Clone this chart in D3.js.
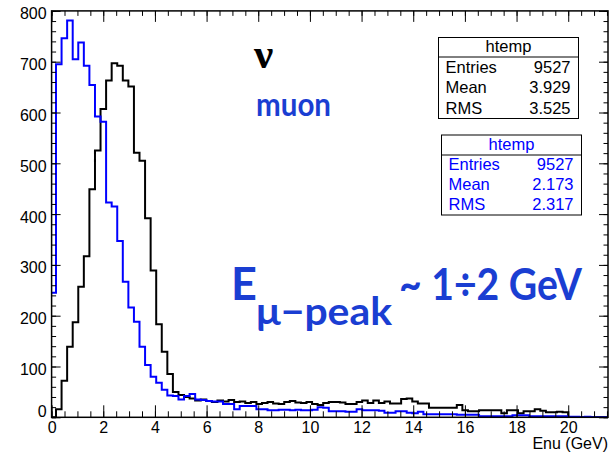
<!DOCTYPE html>
<html>
<head>
<meta charset="utf-8">
<script src="https://cdn.jsdelivr.net/npm/d3@7"></script>
<style>
  body { margin: 0; background: #fff; }
  svg { display: block; }
</style>
</head>
<body>
<svg id="chart" width="615" height="455"></svg>
<script>
// Binning shared by both histograms (100 bins)
const binLow = -0.045;
const binWidth = 0.2155;

// Neutrino energy spectrum (black)
const enuCounts = [
  0, 16, 72, 139, 187, 257, 317, 449, 525, 607,
  663, 697, 692, 663, 651, 521, 505, 392, 289, 183,
  129, 85, 50, 44, 40, 37, 33, 35, 32, 30,
  33, 31, 34, 30, 31, 28, 30, 26, 28, 30,
  27, 26, 30, 32, 29, 28, 30, 26, 24, 28,
  30, 30, 29, 26, 26, 30, 33, 28, 33, 28,
  31, 27, 27, 36, 37, 31, 27, 27, 19, 19,
  19, 19, 19, 24, 14, 12, 12, 14, 14, 14,
  14, 8, 14, 14, 8, 12, 12, 16, 13, 10,
  10, 11, 10, 0, 0, 0, 0, 0, 0, 0
];

// Muon energy spectrum (blue)
const muonCounts = [
  245, 695, 746, 781, 705, 738, 692, 654, 592, 582,
  423, 415, 347, 267, 216, 188, 139, 103, 80, 68,
  54, 43, 42, 35, 42, 46, 35, 34, 32, 31,
  31, 26, 26, 16, 22, 22, 22, 16, 16, 14,
  14, 15, 15, 14, 15, 14, 14, 15, 20, 19,
  12, 12, 12, 11, 11, 16, 14, 14, 14, 13,
  9, 9, 12, 12, 9, 8, 11, 6, 6, 6,
  6, 6, 6, 5, 5, 5, 5, 2, 2, 2,
  2, 2, 2, 4, 4, 4, 2, 2, 2, 2,
  2, 2, 2, 1, 1, 0, 1, 0, 0, 0
];

const xMajorTicks = [0, 2, 4, 6, 8, 10, 12, 14, 16, 18, 20];
const yMajorTicks = [0, 100, 200, 300, 400, 500, 600, 700, 800];
const xTitle = "Enu (GeV)";

const statsEnu = [["Entries", "9527"], ["Mean", "3.929"], ["RMS", "3.525"]];
const statsMuon = [["Entries", "9527"], ["Mean", "2.173"], ["RMS", "2.317"]];
const statsTitle = "htemp";

const svg = d3.select("#chart");
const F = "'Liberation Sans', Arial, Helvetica, sans-serif";

const L = 51.6, R = 608, T = 10.9, B = 417.3;
const x = d3.scaleLinear().domain([0, 21.54]).range([L, R]);
const y = d3.scaleLinear().domain([0, 800]).range([B, T]);

const xMinor = d3.range(0, 21.54, 0.5);
const yMinor = d3.range(0, 801, 20);

// clip for histogram lines
svg.append("defs").append("clipPath").attr("id", "frameClip")
  .append("rect").attr("x", L).attr("y", T).attr("width", R - L).attr("height", B - T);

function drawHist(counts, color) {
  const pts = counts.map((c, i) => [binLow + i * binWidth, c]);
  pts.push([binLow + counts.length * binWidth, counts[counts.length - 1]]);
  const line = d3.line().x(d => x(d[0])).y(d => y(d[1])).curve(d3.curveStepAfter);
  svg.append("path")
    .attr("d", line(pts))
    .attr("fill", "none")
    .attr("stroke", color)
    .attr("stroke-width", 2)
    .attr("clip-path", "url(#frameClip)");
}

drawHist(enuCounts, "#000");
drawHist(muonCounts, "#0000ff");

// Axes: ticks drawn inward on all four sides
function styleAxis(g) {
  g.select(".domain").remove();
  g.selectAll(".tick line").attr("stroke", "#000").attr("stroke-width", 1);
  g.selectAll("text").attr("font-family", F).attr("font-size", 16).attr("fill", "#000");
}

// bottom
svg.append("g").attr("transform", `translate(0,${B})`)
  .call(d3.axisBottom(x).tickValues(xMinor).tickSize(-6).tickFormat(""))
  .call(styleAxis);
svg.append("g").attr("transform", `translate(0,${B})`)
  .call(d3.axisBottom(x).tickValues(xMajorTicks).tickSize(-12).tickPadding(4).tickFormat(d3.format("d")))
  .call(styleAxis)
  .call(g => g.selectAll("text").attr("dy", "0.72em"));
// top
svg.append("g").attr("transform", `translate(0,${T})`)
  .call(d3.axisTop(x).tickValues(xMinor).tickSize(-5).tickFormat(""))
  .call(styleAxis);
svg.append("g").attr("transform", `translate(0,${T})`)
  .call(d3.axisTop(x).tickValues(xMajorTicks).tickSize(-11).tickFormat(""))
  .call(styleAxis);
// left
svg.append("g").attr("transform", `translate(${L},0)`)
  .call(d3.axisLeft(y).tickValues(yMinor).tickSize(-4.5).tickFormat(""))
  .call(styleAxis);
svg.append("g").attr("transform", `translate(${L},0)`)
  .call(d3.axisLeft(y).tickValues(yMajorTicks).tickSize(-9).tickPadding(5).tickFormat(d3.format("d")))
  .call(styleAxis)
  .call(g => g.selectAll("text").attr("dy", d => d === 0 ? "-0.05em" : "0.5em"));
// right
svg.append("g").attr("transform", `translate(${R},0)`)
  .call(d3.axisRight(y).tickValues(yMinor).tickSize(-4.5).tickFormat(""))
  .call(styleAxis);
svg.append("g").attr("transform", `translate(${R},0)`)
  .call(d3.axisRight(y).tickValues(yMajorTicks).tickSize(-9).tickFormat(""))
  .call(styleAxis);

// frame
svg.append("rect").attr("x", L).attr("y", T).attr("width", R - L).attr("height", B - T)
  .attr("fill", "none").attr("stroke", "#000").attr("stroke-width", 1.5);

svg.append("text").attr("x", R).attr("y", 449).attr("text-anchor", "end")
  .attr("font-family", F).attr("font-size", 16).attr("fill", "#000").text(xTitle);

// statistics boxes
function statsBox(x0, y0, w, h, headH, rows, color) {
  const g = svg.append("g");
  g.append("rect").attr("x", x0).attr("y", y0).attr("width", w).attr("height", h)
    .attr("fill", "#fff").attr("stroke", "#000").attr("stroke-width", 1);
  g.append("line").attr("x1", x0).attr("x2", x0 + w).attr("y1", y0 + headH).attr("y2", y0 + headH)
    .attr("stroke", "#000").attr("stroke-width", 1);
  g.append("text").attr("x", x0 + w / 2).attr("y", y0 + headH - 5).attr("text-anchor", "middle")
    .attr("font-family", F).attr("font-size", 16.5).attr("fill", color).text(statsTitle);
  const rowH = (h - headH) / rows.length;
  rows.forEach((r, i) => {
    const by = y0 + headH + rowH * (i + 1) - 5;
    g.append("text").attr("x", x0 + 7).attr("y", by)
      .attr("font-family", F).attr("font-size", 16.5).attr("fill", color).text(r[0]);
    g.append("text").attr("x", x0 + w - 8).attr("y", by).attr("text-anchor", "end")
      .attr("font-family", F).attr("font-size", 16.5).attr("fill", color).text(r[1]);
  });
}
statsBox(438.5, 37.5, 140, 81, 19.5, statsEnu, "#000");
statsBox(441.5, 135, 140, 80, 20, statsMuon, "#0000ff");

// annotations
const ann = "#1a3ed2";
const AF = "Lato, 'Open Sans', sans-serif";
function label(x0, y0, size, txt, width, color) {
  const t = svg.append("text").attr("x", x0).attr("y", y0)
    .attr("font-family", AF).attr("font-weight", "bold").attr("fill", color || ann)
    .attr("font-size", size).text(txt);
  if (width) t.attr("textLength", width).attr("lengthAdjust", "spacingAndGlyphs");
  return t;
}
svg.append("text").attr("x", 254).attr("y", 68)
  .attr("font-family", "'Liberation Serif', 'DejaVu Serif', serif").attr("font-weight", "bold")
  .attr("font-size", 43).attr("fill", "#000").text("ν");
label(256, 116, 33, "muon", 75);

// E with subscript, then the range
label(231, 300, 45, "E");
label(256, 325, 39, "μ−peak", 136);
label(399, 300, 44, "~ 1÷2 GeV", 183);
</script>
</body>
</html>
